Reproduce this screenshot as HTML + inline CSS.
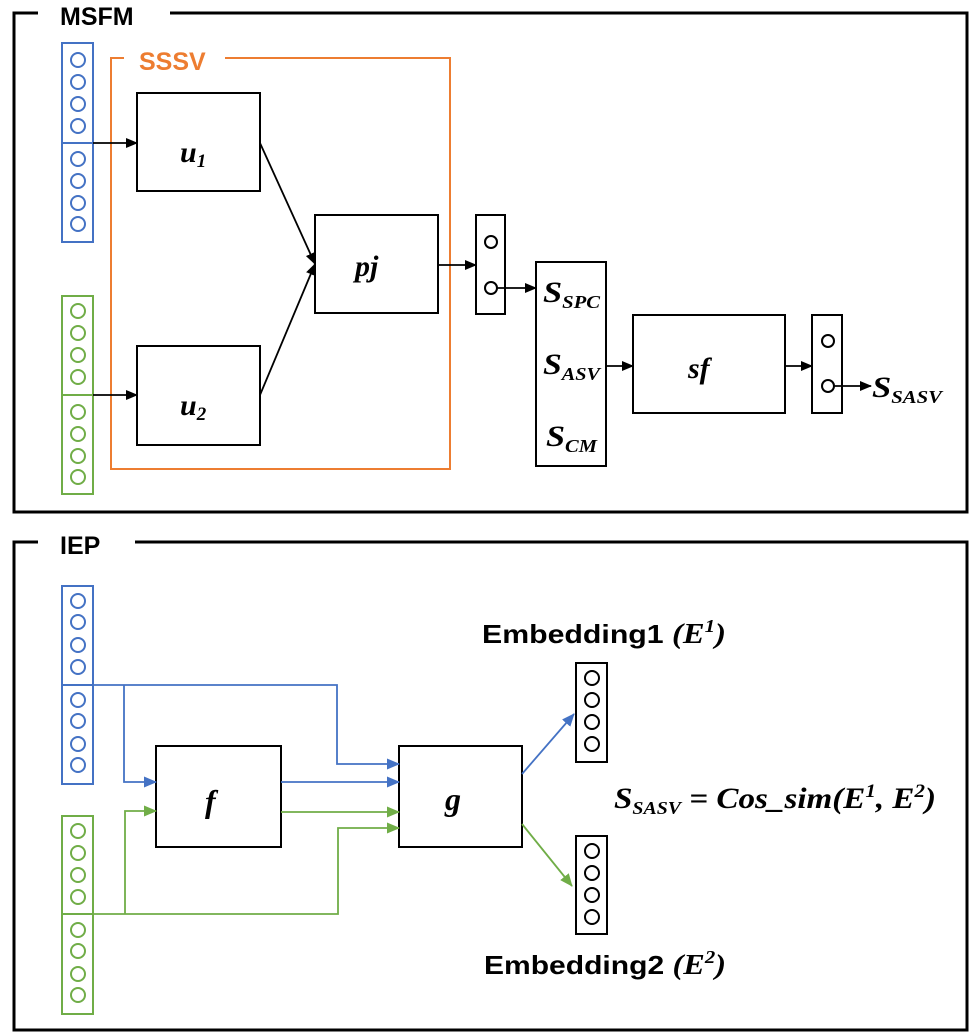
<!DOCTYPE html>
<html><head><meta charset="utf-8"><style>
body{margin:0;background:#fff}
svg{display:block}
.t{font-family:"Liberation Sans","DejaVu Sans",sans-serif;font-weight:bold}
.m{font-family:"Liberation Serif","DejaVu Serif",serif;font-weight:bold;font-style:italic}
</style></head><body>
<svg width="980" height="1036" viewBox="0 0 980 1036" xmlns="http://www.w3.org/2000/svg">
<defs>
<marker id="ak" markerWidth="12" markerHeight="10" refX="11" refY="5" orient="auto" markerUnits="userSpaceOnUse"><path d="M0,0 L12,5 L0,10z" fill="#000"/></marker>
<marker id="ab" markerWidth="13" markerHeight="11" refX="12" refY="5.5" orient="auto" markerUnits="userSpaceOnUse"><path d="M0,0 L13,5.5 L0,11z" fill="#4472c4"/></marker>
<marker id="ag" markerWidth="13" markerHeight="11" refX="12" refY="5.5" orient="auto" markerUnits="userSpaceOnUse"><path d="M0,0 L13,5.5 L0,11z" fill="#70ad47"/></marker>
</defs>
<path d="M38,13 H14 V512 H967 V13 H170" fill="none" stroke="#000" stroke-width="3"/>
<text x="60" y="25" class="t" font-size="25">MSFM</text>
<path d="M124,58 H111 V469 H450 V58 H225" fill="none" stroke="#ed7d31" stroke-width="2"/>
<text x="139" y="70" class="t" font-size="25" fill="#ed7d31">SSSV</text>
<g fill="none" stroke="#4472c4" stroke-width="2">
<rect x="62" y="43" width="31" height="199"/><line x1="62" y1="143" x2="93" y2="143"/>
<circle cx="78" cy="60" r="7"/><circle cx="78" cy="82" r="7"/><circle cx="78" cy="104" r="7"/><circle cx="78" cy="126" r="7"/>
<circle cx="78" cy="159" r="7"/><circle cx="78" cy="181" r="7"/><circle cx="78" cy="203" r="7"/><circle cx="78" cy="224" r="7"/>
</g>
<g fill="none" stroke="#70ad47" stroke-width="2">
<rect x="62" y="296" width="31" height="198"/><line x1="62" y1="395" x2="93" y2="395"/>
<circle cx="78" cy="311" r="7"/><circle cx="78" cy="333" r="7"/><circle cx="78" cy="355" r="7"/><circle cx="78" cy="377" r="7"/>
<circle cx="78" cy="412" r="7"/><circle cx="78" cy="434" r="7"/><circle cx="78" cy="456" r="7"/><circle cx="78" cy="477" r="7"/>
</g>
<g fill="none" stroke="#000" stroke-width="2">
<rect x="137" y="93" width="123" height="98"/>
<rect x="137" y="346" width="123" height="99"/>
<rect x="315" y="215" width="123" height="98"/>
<rect x="476" y="215" width="29" height="99"/>
<circle cx="491" cy="242" r="6"/><circle cx="491" cy="288" r="6"/>
<rect x="536" y="262" width="70" height="204"/>
<rect x="633" y="315" width="152" height="98"/>
<rect x="812" y="315" width="30" height="98"/>
<circle cx="828" cy="341" r="6"/><circle cx="828" cy="386" r="6"/>
</g>
<g stroke="#000" stroke-width="1.8" fill="none">
<line x1="93" y1="143" x2="137" y2="143" marker-end="url(#ak)"/>
<line x1="93" y1="395" x2="137" y2="395" marker-end="url(#ak)"/>
<line x1="260" y1="143" x2="315" y2="264" marker-end="url(#ak)"/>
<line x1="260" y1="395" x2="315" y2="264" marker-end="url(#ak)"/>
<line x1="438" y1="265" x2="476" y2="265" marker-end="url(#ak)"/>
<line x1="497" y1="288" x2="536" y2="288" marker-end="url(#ak)"/>
<line x1="606" y1="366" x2="633" y2="366" marker-end="url(#ak)"/>
<line x1="785" y1="366" x2="812" y2="366" marker-end="url(#ak)"/>
<line x1="834" y1="386" x2="871" y2="386" marker-end="url(#ak)"/>
</g>
<text x="180" y="162" class="m" font-size="30">u<tspan font-size="19" dy="5">1</tspan></text>
<text x="180" y="415" class="m" font-size="30">u<tspan font-size="19" dy="5">2</tspan></text>
<text x="355" y="276" class="m" font-size="30">pj</text>
<text x="543" y="302" class="m" font-size="30" textLength="57" lengthAdjust="spacingAndGlyphs">S<tspan font-size="18" dy="6">SPC</tspan></text>
<text x="543" y="374" class="m" font-size="30" textLength="57" lengthAdjust="spacingAndGlyphs">S<tspan font-size="18" dy="6">ASV</tspan></text>
<text x="546" y="446" class="m" font-size="30" textLength="51" lengthAdjust="spacingAndGlyphs">S<tspan font-size="18" dy="6">CM</tspan></text>
<text x="688" y="378" class="m" font-size="30">sf</text>
<text x="872" y="397" class="m" font-size="30" textLength="70" lengthAdjust="spacingAndGlyphs">S<tspan font-size="18" dy="6">SASV</tspan></text>

<path d="M38,542 H14 V1030 H967 V542 H135" fill="none" stroke="#000" stroke-width="3"/>
<text x="60" y="554" class="t" font-size="25">IEP</text>
<g fill="none" stroke="#4472c4" stroke-width="2">
<rect x="62" y="586" width="31" height="198"/><line x1="62" y1="685" x2="93" y2="685"/>
<circle cx="78" cy="601" r="7"/><circle cx="78" cy="622" r="7"/><circle cx="78" cy="645" r="7"/><circle cx="78" cy="667" r="7"/>
<circle cx="78" cy="700" r="7"/><circle cx="78" cy="721" r="7"/><circle cx="78" cy="744" r="7"/><circle cx="78" cy="765" r="7"/>
</g>
<g fill="none" stroke="#70ad47" stroke-width="2">
<rect x="62" y="816" width="31" height="198"/><line x1="62" y1="914" x2="93" y2="914"/>
<circle cx="78" cy="831" r="7"/><circle cx="78" cy="853" r="7"/><circle cx="78" cy="875" r="7"/><circle cx="78" cy="897" r="7"/>
<circle cx="78" cy="930" r="7"/><circle cx="78" cy="951" r="7"/><circle cx="78" cy="974" r="7"/><circle cx="78" cy="995" r="7"/>
</g>
<g fill="none" stroke="#000" stroke-width="2">
<rect x="156" y="746" width="125" height="101"/>
<rect x="399" y="746" width="123" height="101"/>
<rect x="576" y="663" width="31" height="99"/>
<circle cx="592" cy="678" r="7"/><circle cx="592" cy="700" r="7"/><circle cx="592" cy="722" r="7"/><circle cx="592" cy="744" r="7"/>
<rect x="576" y="836" width="31" height="98"/>
<circle cx="592" cy="851" r="7"/><circle cx="592" cy="873" r="7"/><circle cx="592" cy="895" r="7"/><circle cx="592" cy="917" r="7"/>
</g>
<g fill="none" stroke="#4472c4" stroke-width="1.8">
<polyline points="93,685 337,685 337,764 399,764" marker-end="url(#ab)"/>
<polyline points="124,685 124,782 156,782" marker-end="url(#ab)"/>
<line x1="281" y1="782" x2="399" y2="782" marker-end="url(#ab)"/>
<line x1="522" y1="774" x2="574" y2="714" marker-end="url(#ab)"/>
</g>
<g fill="none" stroke="#70ad47" stroke-width="1.8">
<polyline points="93,914 338,914 338,828 399,828" marker-end="url(#ag)"/>
<polyline points="125,914 125,811 156,811" marker-end="url(#ag)"/>
<line x1="281" y1="812" x2="399" y2="812" marker-end="url(#ag)"/>
<line x1="522" y1="824" x2="572" y2="886" marker-end="url(#ag)"/>
</g>
<text x="205" y="812" class="m" font-size="32">f</text>
<text x="445" y="810" class="m" font-size="32">g</text>
<text x="482" y="643" class="t" font-size="26" textLength="244" lengthAdjust="spacingAndGlyphs">Embedding1 <tspan class="m" font-size="28">(E<tspan font-size="18" dy="-11">1</tspan><tspan dy="11">)</tspan></tspan></text>
<text x="484" y="974" class="t" font-size="26" textLength="242" lengthAdjust="spacingAndGlyphs">Embedding2 <tspan class="m" font-size="28">(E<tspan font-size="18" dy="-11">2</tspan><tspan dy="11">)</tspan></tspan></text>
<text x="614" y="808" class="m" font-size="30" textLength="322" lengthAdjust="spacingAndGlyphs">S<tspan font-size="18" dy="6">SASV</tspan><tspan dy="-6"> = Cos_sim(E</tspan><tspan font-size="19" dy="-11">1</tspan><tspan dy="11">, E</tspan><tspan font-size="19" dy="-11">2</tspan><tspan dy="11">)</tspan></text>
</svg>
</body></html>
